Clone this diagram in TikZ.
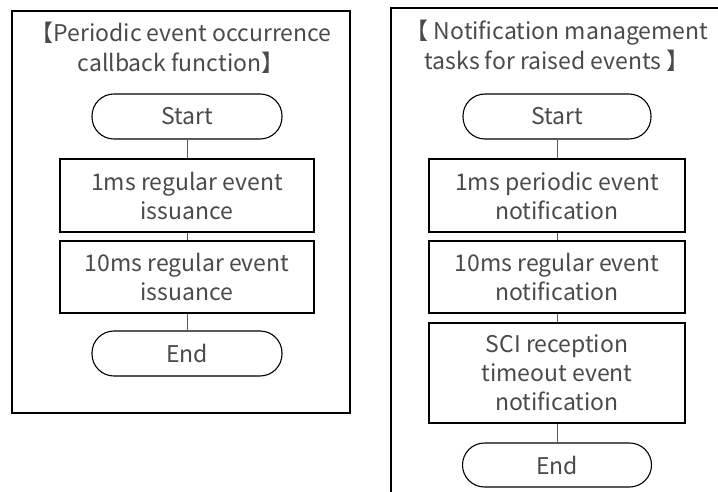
\documentclass[tikz,border=0pt]{standalone}
\usepackage{fontspec}
\setmainfont{Noto Sans CJK JP}
\definecolor{txt}{HTML}{4A4A4A}
\definecolor{conn}{HTML}{595959}
\tikzset{
  frame/.style={draw=black, line width=1.8pt},
  title/.style={text=txt, align=center, font=\fontsize{23}{30}\selectfont, inner sep=0pt},
  procbox/.style={draw=black, line width=1.8pt, text=txt, align=center, font=\fontsize{23}{29}\selectfont, inner sep=0pt},
  term/.style={draw=black, line width=1.1pt, text=txt, align=center, font=\fontsize{23}{29}\selectfont, inner sep=0pt, rounded corners=22pt},
  conn/.style={draw=conn, line width=0.9pt}
}
\begin{document}
\begin{tikzpicture}[x=1pt,y=-1pt]
\useasboundingbox (0,0) rectangle (718,492);
\clip (0,0) rectangle (718,492);
\fill[white] (0,0) rectangle (718,492);

% left panel
\draw[frame] (12,11) rectangle (350,413);
\node[title] (ltitle) at (181,48) {【Periodic event occurrence\\callback function】};
\node[term, minimum width=190pt, minimum height=45pt] (lstart) at (187,116.5) {Start};
\node[procbox, minimum width=254pt, minimum height=73pt] (lb1) at (187,195.5) {1ms regular event\\issuance};
\node[procbox, minimum width=254pt, minimum height=72pt] (lb2) at (187,277) {10ms regular event\\issuance};
\node[term, minimum width=190pt, minimum height=45pt] (lend) at (187,353.5) {End};
\draw[conn] (lstart.south) -- (lb1.north);
\draw[conn] (lb1.south) -- (lb2.north);
\draw[conn] (lb2.south) -- (lend.north);

% right panel
\draw[frame] (391,8) rectangle (740,520);
\node[title] (rtitle) at (557,46) {【 Notification management\\tasks for raised events 】};
\node[term, minimum width=188pt, minimum height=45pt] (rstart) at (557,116.5) {Start};
\node[procbox, minimum width=256pt, minimum height=73pt] (rb1) at (557,195.5) {1ms periodic event\\notification};
\node[procbox, minimum width=256pt, minimum height=72pt] (rb2) at (557,277) {10ms regular event\\notification};
\node[procbox, minimum width=256pt, minimum height=100pt] (rb3) at (557,373) {SCI reception\\timeout event\\notification};
\node[term, minimum width=189pt, minimum height=44pt] (rend) at (557,465) {End};
\draw[conn] (rstart.south) -- (rb1.north);
\draw[conn] (rb1.south) -- (rb2.north);
\draw[conn] (rb2.south) -- (rb3.north);
\draw[conn] (rb3.south) -- (rend.north);
\end{tikzpicture}
\end{document}
